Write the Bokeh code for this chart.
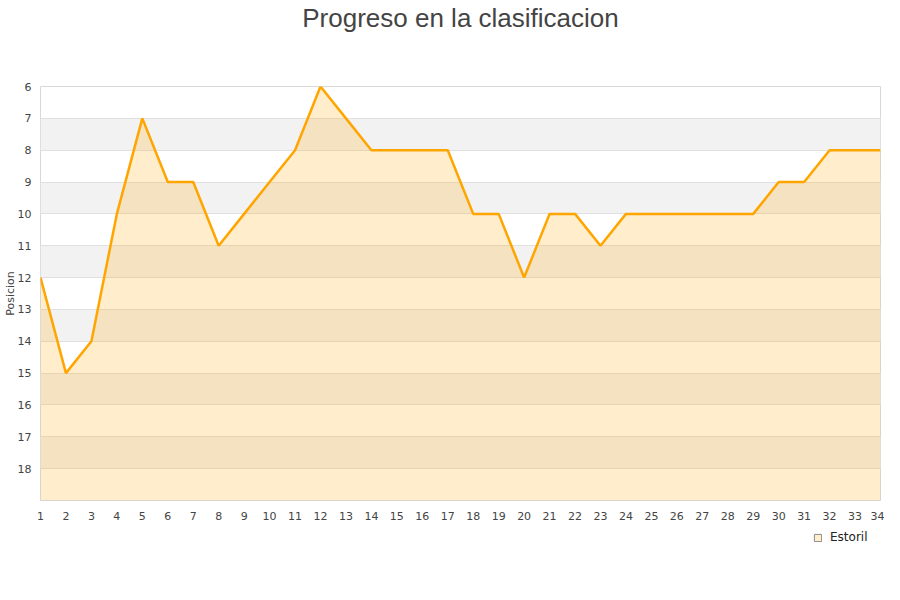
from bokeh.plotting import figure
from bokeh.layouts import column
from bokeh.models import Range1d, FixedTicker, Legend, LegendItem, Title
from bokeh.embed import file_html
from bokeh.resources import INLINE

jornadas = list(range(1, 35))
posiciones = [12, 15, 14, 10, 7, 9, 9, 11, 10, 9, 8, 6, 7, 8, 8, 8, 8,
              10, 10, 12, 10, 10, 11, 10, 10, 10, 10, 10, 10, 9, 9, 8, 8, 8]
y_ticks = list(range(6, 19))
equipo = "Estoril"
fondo = 19
titulo = "Progreso en la clasificacion"
eje_y = "Posicion"

naranja = "#ffa500"
nan = float("nan")

p = figure(width=884, height=525, output_backend="svg", toolbar_location=None,
           x_range=Range1d(1, 34), y_range=Range1d(fondo, 6),
           min_border_left=0, min_border_right=4, min_border_top=86, min_border_bottom=25)

p.title.text = titulo
p.title.align = "center"
p.title.text_font = "Liberation Sans"
p.title.text_font_size = "26px"
p.title.text_font_style = "normal"
p.title.text_color = "#444444"
p.title.standoff = 0

# empty spacer between the title and the plot area
p.add_layout(Title(text=" ", text_font_size="26px", standoff=22), "above")

p.ygrid.band_fill_color = "#f2f2f2"
p.ygrid.band_fill_alpha = 1
p.ygrid.grid_line_color = "#e0e0e0"
p.xgrid.grid_line_color = None
p.outline_line_color = "#d8d8d8"

area = p.varea(x=jornadas, y1=posiciones, y2=fondo, fill_color=naranja, fill_alpha=0.2)
p.line(x=jornadas, y=posiciones, line_color=naranja, line_width=2.5)

for ax in (p.xaxis[0], p.yaxis[0]):
    ax.axis_line_color = None
    ax.major_tick_line_color = None
    ax.minor_tick_line_color = None
    ax.major_label_text_font = "DejaVu Sans"
    ax.major_label_text_font_size = "11px"
    ax.major_label_text_color = "#444444"

p.xaxis.ticker = FixedTicker(ticks=jornadas)
p.yaxis.ticker = FixedTicker(ticks=y_ticks)
p.yaxis.axis_label = eje_y
p.yaxis.axis_label_text_font = "DejaVu Sans"
p.yaxis.axis_label_text_font_size = "11px"
p.yaxis.axis_label_text_font_style = "normal"
p.yaxis.axis_label_text_color = "#444444"
p.yaxis.axis_label_standoff = -2
p.yaxis.major_label_standoff = 3
p.xaxis.major_label_standoff = 5

# legend strip below the chart (key-only renderer, nothing drawn in the strip)
q = figure(width=884, height=59, output_backend="svg", toolbar_location=None,
           x_range=Range1d(0, 1), y_range=Range1d(0, 1),
           min_border_left=0, min_border_right=0, min_border_top=0, min_border_bottom=0)
q.axis.visible = False
q.grid.visible = False
q.outline_line_color = None
muestra = q.quad(left=[nan], right=[nan], top=[nan], bottom=[nan],
                 fill_color=naranja, fill_alpha=0.2, line_color="#8a8a8a", line_width=1)

legend = Legend(items=[LegendItem(label=equipo, renderers=[muestra])],
                location=(773, 40), border_line_color=None, background_fill_alpha=0,
                padding=4, margin=0, label_standoff=8,
                glyph_width=9, glyph_height=9, label_text_font="DejaVu Sans",
                label_text_font_size="12px", label_text_color="#222222")
q.add_layout(legend)

layout = column(p, q, spacing=0)
open("out.html", "w").write(file_html(layout, INLINE))
